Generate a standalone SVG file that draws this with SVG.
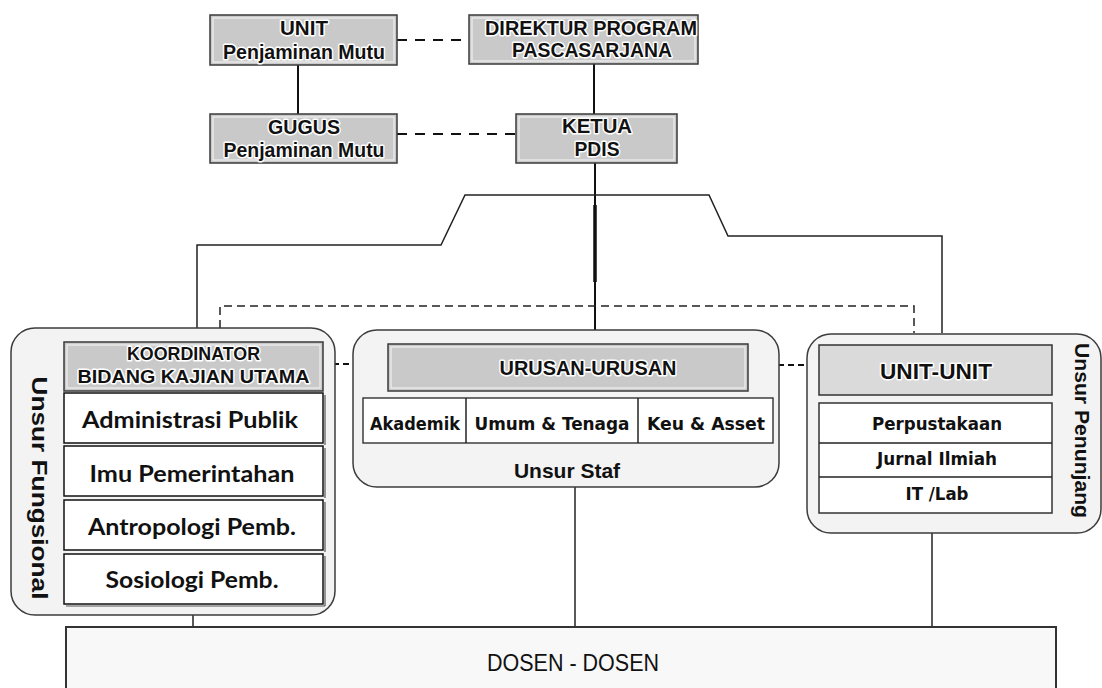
<svg xmlns="http://www.w3.org/2000/svg" width="1102" height="688" viewBox="0 0 1102 688">
<style>
.bg{fill:#ffffff}
.gbox{fill:#c9c9c9;stroke:#3a3a3a;stroke-width:1.5}
.inner{fill:none;stroke:#f0f0f0;stroke-width:1.2}
.grp{fill:#f3f3f3;stroke:#3c3c3c;stroke-width:1.5}
.wbox{fill:#ffffff;stroke:#111;stroke-width:1.5}
.shadow{fill:none;stroke:#555;stroke-width:1.2}
.t{font-family:"Liberation Sans",Arial,sans-serif;text-anchor:middle;fill:#111}
.halo{paint-order:stroke;stroke:#ffffff;stroke-width:3;stroke-linejoin:round}
.tb{font-weight:bold}
.cal{font-family:Lato,"Open Sans",sans-serif;font-weight:bold;text-anchor:middle;fill:#111;font-size:23px}
.tah{font-family:"DejaVu Sans",Verdana,sans-serif;text-anchor:middle;fill:#111;font-size:17px;font-weight:bold}
.solid{fill:none;stroke:#111;stroke-width:2}
.thin{fill:none;stroke:#222;stroke-width:1.5}
.dash{fill:none;stroke:#111;stroke-width:2;stroke-dasharray:10 8}
.dash2{fill:none;stroke:#222;stroke-width:1.5;stroke-dasharray:8 5}
</style>
<rect class="bg" x="0" y="0" width="1102" height="688"/>

<g id="connectors">
  <line class="dash" x1="397" y1="40" x2="469" y2="40"/>
  <line class="dash" x1="397" y1="134" x2="516" y2="134"/>
  <line class="solid" x1="298" y1="65" x2="298" y2="114"/>
  <line class="solid" x1="594" y1="64" x2="594" y2="114"/>
  <line class="solid" x1="595" y1="163" x2="595" y2="330"/>
  <line fill="none" stroke="#111" stroke-width="3.5" x1="595" y1="205" x2="595" y2="282"/>
  <polyline class="thin" points="197,328 197,245 441,245 465,195 709,195 728,236 942,236 942,333"/>
  <polyline class="dash2" points="220,328 220,306 914,306 914,333"/>
  <line class="dash" x1="323" y1="364" x2="388" y2="364" stroke-width="1.8" style="stroke-dasharray:6 4"/>
  <line class="dash" x1="748" y1="365" x2="819" y2="365" stroke-width="1.8" style="stroke-dasharray:6 4"/>
  <line class="thin" x1="193" y1="615" x2="193" y2="627"/>
  <line class="thin" x1="575" y1="487" x2="575" y2="627"/>
  <line class="thin" x1="932" y1="533" x2="932" y2="627"/>
</g>

<g id="unit-pm">
  <rect class="gbox" x="210" y="15" width="187" height="50"/>
  <rect class="inner" x="213" y="18" width="181" height="44"/>
  <text class="t tb halo" x="304" y="35" font-size="21" textLength="48" lengthAdjust="spacingAndGlyphs">UNIT</text>
  <text class="t tb halo" x="304" y="59" font-size="21" textLength="162" lengthAdjust="spacingAndGlyphs">Penjaminan Mutu</text>
</g>

<g id="direktur">
  <rect class="gbox" x="469" y="15" width="229" height="49"/>
  <rect class="inner" x="472" y="18" width="223" height="43"/>
  <text class="t tb halo" x="591" y="35" font-size="21" textLength="212" lengthAdjust="spacingAndGlyphs">DIREKTUR PROGRAM</text>
  <text class="t tb halo" x="592" y="57" font-size="21" textLength="160" lengthAdjust="spacingAndGlyphs">PASCASARJANA</text>
</g>

<g id="gugus-pm">
  <rect class="gbox" x="210" y="114" width="187" height="49"/>
  <rect class="inner" x="213" y="117" width="181" height="43"/>
  <text class="t tb halo" x="304" y="134" font-size="21" textLength="72" lengthAdjust="spacingAndGlyphs">GUGUS</text>
  <text class="t tb halo" x="304" y="157" font-size="21" textLength="161" lengthAdjust="spacingAndGlyphs">Penjaminan Mutu</text>
</g>

<g id="ketua">
  <rect class="gbox" x="516" y="114" width="161" height="49"/>
  <rect class="inner" x="519" y="117" width="155" height="43"/>
  <text class="t tb halo" x="597" y="133" font-size="21" textLength="70" lengthAdjust="spacingAndGlyphs">KETUA</text>
  <text class="t tb halo" x="597" y="156" font-size="21" textLength="45" lengthAdjust="spacingAndGlyphs">PDIS</text>
</g>

<g id="unsur-fungsional">
  <rect class="grp" x="11" y="328" width="324" height="287" rx="24"/>
  <text class="t tb" transform="translate(32,488) rotate(90)" font-size="22" textLength="223" lengthAdjust="spacingAndGlyphs">Unsur Fungsional</text>
  <rect class="gbox" x="64" y="342" width="259" height="49"/>
  <rect class="inner" x="67" y="345" width="253" height="43"/>
  <text class="t tb halo" x="193.5" y="360" font-size="19" textLength="133" lengthAdjust="spacingAndGlyphs">KOORDINATOR</text>
  <text class="t tb halo" x="193.5" y="383" font-size="19" textLength="232" lengthAdjust="spacingAndGlyphs">BIDANG KAJIAN UTAMA</text>
  <g id="adm-publik">
    <rect class="wbox" x="64" y="393" width="259" height="50"/>
    <line class="shadow" x1="325" y1="395" x2="325" y2="445"/>
    <text class="cal" x="190" y="428" textLength="216" lengthAdjust="spacingAndGlyphs">Administrasi Publik</text>
  </g>
  <g id="ilmu-pemerintahan">
    <rect class="wbox" x="64" y="446" width="259" height="50"/>
    <line class="shadow" x1="325" y1="448" x2="325" y2="498"/>
    <text class="cal" x="192" y="482" textLength="205" lengthAdjust="spacingAndGlyphs">Imu Pemerintahan</text>
  </g>
  <g id="antropologi">
    <rect class="wbox" x="64" y="500" width="259" height="50"/>
    <line class="shadow" x1="325" y1="502" x2="325" y2="552"/>
    <text class="cal" x="192" y="535" textLength="208" lengthAdjust="spacingAndGlyphs">Antropologi Pemb.</text>
  </g>
  <g id="sosiologi">
    <rect class="wbox" x="64" y="554" width="259" height="50"/>
    <line class="shadow" x1="325" y1="556" x2="325" y2="606"/>
    <line class="shadow" x1="66" y1="606" x2="325" y2="606"/>
    <text class="cal" x="192" y="588" textLength="173" lengthAdjust="spacingAndGlyphs">Sosiologi Pemb.</text>
  </g>
</g>

<g id="unsur-staf">
  <rect class="grp" x="353" y="330" width="426" height="157" rx="24"/>
  <rect class="gbox" x="388" y="344" width="360" height="47"/>
  <rect class="inner" x="391" y="347" width="354" height="41"/>
  <text class="t tb halo" x="588" y="375" font-size="20" textLength="177" lengthAdjust="spacingAndGlyphs">URUSAN-URUSAN</text>
  <rect class="wbox" x="363" y="398" width="410" height="45" style="stroke:#222;stroke-width:1.3"/>
  <line class="thin" x1="466" y1="398" x2="466" y2="443"/>
  <line class="thin" x1="638" y1="398" x2="638" y2="443"/>
  <text class="tah" x="415" y="430" textLength="90" lengthAdjust="spacingAndGlyphs">Akademik</text>
  <text class="tah" x="552" y="430" textLength="155" lengthAdjust="spacingAndGlyphs">Umum &amp; Tenaga</text>
  <text class="tah" x="706" y="430" textLength="118" lengthAdjust="spacingAndGlyphs">Keu &amp; Asset</text>
  <text class="t tb" x="567" y="478" font-size="21">Unsur Staf</text>
</g>

<g id="unsur-penunjang">
  <rect class="grp" x="807" y="334" width="294" height="199" rx="24"/>
  <rect x="819" y="345" width="233" height="50" fill="#dadada" stroke="#333" stroke-width="1.5"/>
  <text class="t tb halo" x="936" y="379" font-size="22" textLength="112" lengthAdjust="spacingAndGlyphs">UNIT-UNIT</text>
  <rect class="wbox" x="819" y="403" width="233" height="110" style="stroke:#333;stroke-width:1.5"/>
  <line class="thin" x1="819" y1="443" x2="1052" y2="443"/>
  <line class="thin" x1="819" y1="477" x2="1052" y2="477"/>
  <text class="tah" x="937" y="430" textLength="130" lengthAdjust="spacingAndGlyphs">Perpustakaan</text>
  <text class="tah" x="937" y="465" textLength="120" lengthAdjust="spacingAndGlyphs">Jurnal Ilmiah</text>
  <text class="tah" x="937" y="500" textLength="63" lengthAdjust="spacingAndGlyphs">IT /Lab</text>
  <text class="t tb" transform="translate(1075,430.5) rotate(90)" font-size="21" textLength="175" lengthAdjust="spacingAndGlyphs">Unsur Penunjang</text>
</g>

<g id="dosen">
  <rect x="66" y="627" width="990" height="80" fill="#f8f8f8" stroke="#333" stroke-width="2"/>
  <text class="t" x="573" y="671" font-size="23" textLength="172" lengthAdjust="spacingAndGlyphs">DOSEN - DOSEN</text>
</g>
</svg>
